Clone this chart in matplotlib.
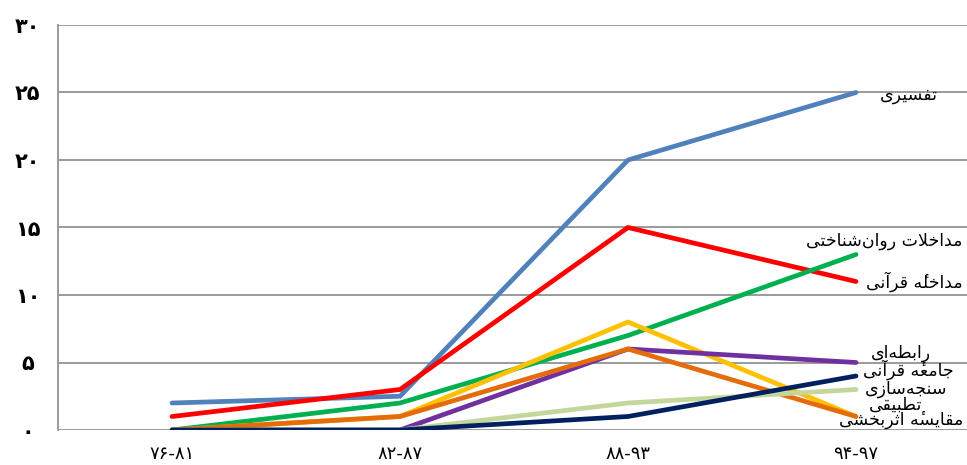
import matplotlib
matplotlib.use("Agg")
import matplotlib.pyplot as plt

# periods (x axis) and counts per research type
periods = ["۷۶-۸۱", "۸۲-۸۷", "۸۸-۹۳", "۹۴-۹۷"]
y_ticks = [0, 5, 10, 15, 20, 25, 30]
y_tick_labels = ["۰", "۵", "۱۰", "۱۵", "۲۰", "۲۵", "۳۰"]

tafsiri = [2, 2.5, 20, 25]
mudakhela_qurani = [1, 3, 15, 11]
mudakhelat_ravan = [0, 2, 7, 13]
jameh_qurani = [0, 1, 8, 1]
rabetei = [0, 0, 6, 5]
tatbiqi = [0, 1, 6, 1]
sanjeh = [0, 0, 2, 3]
moghayese = [0, 0, 1, 4]

names = ["تفسیری", "مداخلهٔ قرآنی", "مداخلات روان‌شناختی", "تطبیقی",
         "رابطه‌ای", "مقایسهٔ اثربخشی", "سنجه‌سازی", "جامعهٔ قرآنی"]
series = [tafsiri, mudakhela_qurani, mudakhelat_ravan, jameh_qurani,
          rabetei, tatbiqi, sanjeh, moghayese]
colors = ["#4F81BD", "#FF0000", "#00B050", "#FFC000",
          "#7030A0", "#E46C0A", "#C3D69B", "#002060"]
# label offsets (pixels) from the last point of each line
offsets = [(53, -3), (58, 0), (28, 14), (40, 12),
           (45, 9), (45, -3), (50, 1), (52, 6)]

# --- minimal Persian shaping (matplotlib 3.10 has no RTL / joining) ---
FORMS = {  # iso, fin, ini, med (None = right-joining only)
    "ا": ("\uFE8D", "\uFE8E", None, None),
    "آ": ("\uFE81", "\uFE82", None, None),
    "ب": ("\uFE8F", "\uFE90", "\uFE91", "\uFE92"),
    "ت": ("\uFE95", "\uFE96", "\uFE97", "\uFE98"),
    "ث": ("\uFE99", "\uFE9A", "\uFE9B", "\uFE9C"),
    "ج": ("\uFE9D", "\uFE9E", "\uFE9F", "\uFEA0"),
    "خ": ("\uFEA5", "\uFEA6", "\uFEA7", "\uFEA8"),
    "د": ("\uFEA9", "\uFEAA", None, None),
    "ر": ("\uFEAD", "\uFEAE", None, None),
    "ز": ("\uFEAF", "\uFEB0", None, None),
    "س": ("\uFEB1", "\uFEB2", "\uFEB3", "\uFEB4"),
    "ش": ("\uFEB5", "\uFEB6", "\uFEB7", "\uFEB8"),
    "ط": ("\uFEC1", "\uFEC2", "\uFEC3", "\uFEC4"),
    "ع": ("\uFEC9", "\uFECA", "\uFECB", "\uFECC"),
    "ف": ("\uFED1", "\uFED2", "\uFED3", "\uFED4"),
    "ق": ("\uFED5", "\uFED6", "\uFED7", "\uFED8"),
    "ل": ("\uFEDD", "\uFEDE", "\uFEDF", "\uFEE0"),
    "م": ("\uFEE1", "\uFEE2", "\uFEE3", "\uFEE4"),
    "ن": ("\uFEE5", "\uFEE6", "\uFEE7", "\uFEE8"),
    "ه": ("\uFEE9", "\uFEEA", "\uFEEB", "\uFEEC"),
    "و": ("\uFEED", "\uFEEE", None, None),
    "ی": ("\uFEEF", "\uFEF0", "\uFEF3", "\uFEF4"),
}
LAM_ALEF = {"ا": ("\uFEFB", "\uFEFC"), "آ": ("\uFEF5", "\uFEF6")}
MARKS = "\u0654"


def shape(text):
    chars = [c for c in text if c not in MARKS]
    # remember which base letter carries a mark
    marks = {}
    k = -1
    for c in text:
        if c in MARKS:
            marks[k] = marks.get(k, "") + c
        else:
            k += 1
    out = []
    i = 0
    while i < len(chars):
        c = chars[i]
        if c not in FORMS:
            if c != "\u200c":
                out.append(c)
            i += 1
            continue
        prev = chars[i - 1] if i > 0 else None
        joins_prev = prev in FORMS and FORMS[prev][2] is not None
        if c == "ل" and i + 1 < len(chars) and chars[i + 1] in LAM_ALEF:
            lig = LAM_ALEF[chars[i + 1]]
            out.append(lig[1] if joins_prev else lig[0])
            i += 2
            continue
        nxt = chars[i + 1] if i + 1 < len(chars) else None
        joins_next = FORMS[c][2] is not None and nxt in FORMS
        iso, fin, ini, med = FORMS[c]
        if joins_prev and joins_next:
            g = med
        elif joins_prev:
            g = fin
        elif joins_next:
            g = ini
        else:
            g = iso
        out.append(g + marks.get(i, ""))
        i += 1
    return "".join(reversed(out))


fig = plt.figure(figsize=(9.67, 4.65), dpi=100)
ax = fig.add_axes([58 / 967, 35 / 465, 912 / 967, 405 / 465])

x = list(range(len(periods)))
for vals, col, name, (dx, dy) in zip(series, colors, names, offsets):
    ax.plot(x, vals, color=col, lw=3.4, solid_capstyle="round",
            solid_joinstyle="miter", zorder=3)
    ax.annotate(shape(name), xy=(x[-1], vals[-1]), xytext=(dx * 0.72, dy * 0.72),
                textcoords="offset points", ha="center", va="center",
                fontsize=12.5, color="black", family="DejaVu Sans",
                annotation_clip=False, zorder=4)

ax.set_xlim(-0.5, 3.5)
ax.set_ylim(0, 30)
ax.set_xticks(x)
ax.set_xticklabels(periods, fontsize=13, family="DejaVu Sans")
ax.set_yticks(y_ticks)
ax.set_yticklabels(y_tick_labels, fontsize=15, fontweight="bold", family="DejaVu Sans")
ax.tick_params(axis="both", length=0)
ax.tick_params(axis="x", pad=11)
ax.tick_params(axis="y", pad=22)
for lab in ax.get_yticklabels():
    lab.set_horizontalalignment("center")

ax.grid(axis="y", color="#9A9A9A", lw=1.4, zorder=1)
ax.grid(axis="x", visible=False)
for s in ["top", "right", "bottom"]:
    ax.spines[s].set_visible(False)
ax.spines["left"].set_color("#9A9A9A")
ax.spines["left"].set_linewidth(1.4)

fig.savefig("out.png", dpi=100)
